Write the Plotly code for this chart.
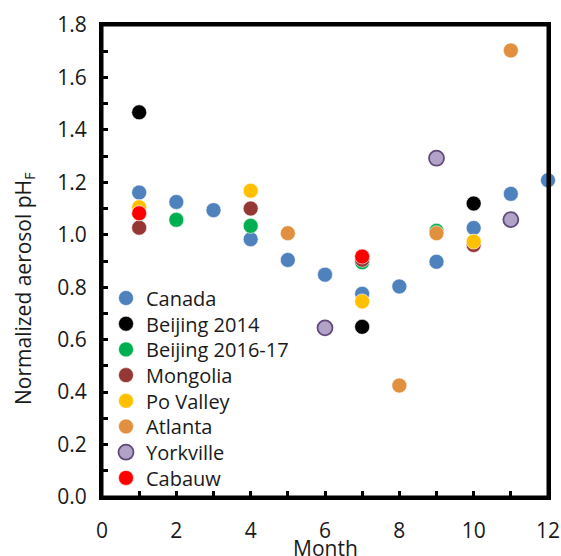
import plotly.graph_objects as go

series_names = ["Canada", "Beijing 2014", "Beijing 2016-17", "Mongolia",
                "Po Valley", "Atlanta", "Yorkville", "Cabauw"]

canada_month = [1, 2, 3, 4, 5, 6, 7, 8, 9, 10, 11, 12]
canada_ph = [1.161, 1.125, 1.094, 0.983, 0.904, 0.848, 0.775, 0.803, 0.897, 1.026, 1.156, 1.208]

beijing2014_month = [1, 7, 10]
beijing2014_ph = [1.467, 0.649, 1.119]

beijing1617_month = [2, 4, 7, 9]
beijing1617_ph = [1.057, 1.034, 0.895, 1.015]

mongolia_month = [1, 4, 7, 10]
mongolia_ph = [1.027, 1.100, 0.905, 0.961]

povalley_month = [1, 4, 7, 10]
povalley_ph = [1.105, 1.168, 0.746, 0.974]

atlanta_month = [5, 8, 9, 11]
atlanta_ph = [1.006, 0.425, 1.006, 1.703]

yorkville_month = [6, 9, 11]
yorkville_ph = [0.645, 1.292, 1.058]

cabauw_month = [1, 7]
cabauw_ph = [1.082, 0.917]

months = [canada_month, beijing2014_month, beijing1617_month, mongolia_month,
          povalley_month, atlanta_month, yorkville_month, cabauw_month]
values = [canada_ph, beijing2014_ph, beijing1617_ph, mongolia_ph,
          povalley_ph, atlanta_ph, yorkville_ph, cabauw_ph]
fills = ["#4F81BD", "#000000", "#00B050", "#953735",
         "#FFC000", "#E0903E", "#B3A2C7", "#FF0000"]
edges = ["rgba(255,255,255,0.6)"] * 6 + ["#604A7B", "rgba(255,255,255,0.6)"]
edge_w = [1, 1, 1, 1, 1, 1, 1.8, 1]

X_RANGE = [0, 12]
Y_RANGE = [0, 1.8]

FONT = "Open Sans"
TXT = "#1a1a1a"

W, H = 561, 556
ML, MR, MT, MB = 102, 13, 25, 59
PW, PH = W - ML - MR, H - MT - MB

fig = go.Figure()
legend_layouts = {}
first_item_px = 298      # legend first entry centre, px from figure top
item_step_px = 25.7
for i, (name, xs, ys, fc, ec, ew) in enumerate(zip(series_names, months, values, fills, edges, edge_w)):
    lname = "legend" if i == 0 else f"legend{i + 1}"
    fig.add_trace(go.Scatter(
        x=xs, y=ys, mode="markers", name=name, legend=lname, cliponaxis=False,
        marker=dict(size=15, color=fc, line=dict(color=ec, width=ew)),
    ))
    yc = first_item_px + i * item_step_px
    legend_layouts[lname] = dict(
        x=4 / PW, y=(MT + PH - yc) / PH, xanchor="left", yanchor="middle",
        bgcolor="rgba(0,0,0,0)", borderwidth=0,
        font=dict(family=FONT, size=20, color=TXT),
        itemsizing="trace",
    )

# empty helper trace so the overlay axes (inside tick marks) are drawn
fig.add_trace(go.Scatter(x=[], y=[], xaxis="x2", yaxis="y2", showlegend=False,
                         hoverinfo="skip"))

label_axis = dict(
    showgrid=False, zeroline=False, showline=True, linecolor="black", linewidth=3,
    mirror=True, ticks="outside", tickwidth=1, tickcolor="rgba(0,0,0,0)",
    tickfont=dict(family=FONT, size=21, color=TXT),
)
mark_axis = dict(
    showgrid=False, zeroline=False, showline=False, showticklabels=False,
    ticks="inside", ticklen=6, tickwidth=2.5, tickcolor="black",
)

fig.update_layout(
    xaxis=dict(range=X_RANGE, dtick=2, tick0=0, ticklen=13, **label_axis),
    yaxis=dict(range=Y_RANGE, dtick=0.2, tick0=0, tickformat=".1f", ticklen=8, **label_axis),
    xaxis2=dict(range=X_RANGE, dtick=1, tick0=0, overlaying="x", anchor="y", side="bottom", **mark_axis),
    yaxis2=dict(range=Y_RANGE, dtick=0.1, tick0=0, overlaying="y", anchor="x", side="left", **mark_axis),
)

fig.add_shape(type="rect", xref="paper", yref="paper", x0=0, y0=0, x1=1, y1=1,
              line=dict(color="black", width=3), layer="above")

# axis titles
title_x_px, title_y_px = 24, 289
fig.add_annotation(
    text="Normalized aerosol pH<sub>F</sub>", textangle=-90,
    xref="paper", yref="paper",
    x=(title_x_px - ML) / PW, y=(MT + PH - title_y_px) / PH,
    xanchor="center", yanchor="middle", showarrow=False,
    font=dict(family=FONT, size=21, color=TXT),
)
month_y_px = 548
fig.add_annotation(
    text="Month", xref="paper", yref="paper",
    x=0.5, y=(MT + PH - month_y_px) / PH,
    xanchor="center", yanchor="middle", showarrow=False,
    font=dict(family=FONT, size=21, color=TXT),
)

fig.update_layout(
    width=W, height=H,
    margin=dict(l=ML, r=MR, t=MT, b=MB, autoexpand=False),
    plot_bgcolor="white", paper_bgcolor="white",
    showlegend=True,
    **legend_layouts,
)

fig.write_html("out.html", config={"displayModeBar": False},
               post_script="document.body.style.margin='0';document.body.style.overflow='hidden';")
